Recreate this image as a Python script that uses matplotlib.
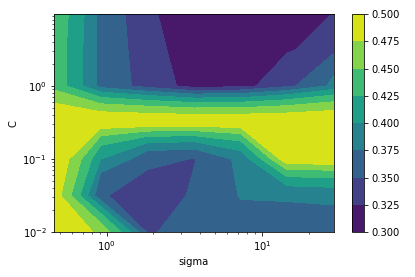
import numpy as np
import matplotlib
matplotlib.use("Agg")
import matplotlib.pyplot as plt

# grid of the search (sigma on x, C on y)
sigma = [0.457, 0.914, 1.83, 3.66, 7.31, 14.6, 29.2]
C = [0.01, 0.0316, 0.1, 0.316, 1.0, 3.1, 9.6]

# mean score per (C, sigma); rows follow C from low to high
score_c001 = [0.500, 0.468, 0.346, 0.370, 0.365, 0.360, 0.360]
score_c003 = [0.490, 0.351, 0.343, 0.352, 0.377, 0.380, 0.384]
score_c01 = [0.500, 0.400, 0.355, 0.349, 0.384, 0.500, 0.500]
score_c03 = [0.4975, 0.500, 0.500, 0.500, 0.500, 0.500, 0.500]
score_c1 = [0.440, 0.365, 0.339, 0.313, 0.318, 0.345, 0.3825]
score_c3 = [0.440, 0.365, 0.335, 0.305, 0.300, 0.322, 0.345]
score_c10 = [0.443, 0.367, 0.328, 0.310, 0.300, 0.305, 0.327]

Z = np.array([score_c001, score_c003, score_c01, score_c03,
              score_c1, score_c3, score_c10])
X, Y = np.meshgrid(sigma, C)

fig = plt.figure(figsize=(415 / 72, 277 / 72), dpi=72)
ax = fig.add_axes([0.130, 0.162, 0.675, 0.787])
cax = fig.add_axes([0.848, 0.162, 0.029, 0.787])

cs = ax.contourf(X, Y, Z, levels=np.linspace(0.3, 0.5, 9), cmap="viridis")
ax.set_xscale("log")
ax.set_yscale("log")
ax.set_xlabel("sigma")
ax.set_ylabel("C")

fig.colorbar(cs, cax=cax)

fig.savefig("out.png", dpi=72)
